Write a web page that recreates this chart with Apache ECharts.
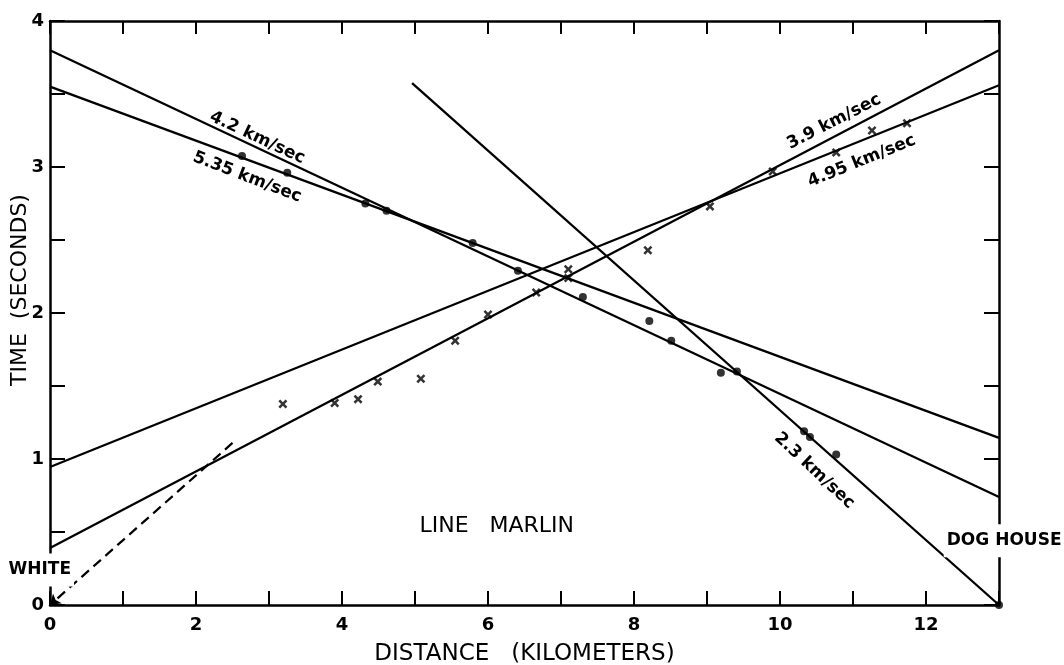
<!DOCTYPE html>
<html>
<head>
<meta charset="utf-8">
<title>Line Marlin travel times</title>
<script src="https://cdn.jsdelivr.net/npm/echarts@6/dist/echarts.min.js"></script>
<style>
  html, body { margin: 0; padding: 0; background: #fff; }
  #chart { width: 1064px; height: 665px; }
</style>
</head>
<body>
<div id="chart"></div>
<script>
// Axis labels
const xTickLabels = [0, 2, 4, 6, 8, 10, 12];
const yTickLabels = [0, 1, 2, 3, 4];

// Fitted travel-time lines, [distance km, time s]
const fit42 = [[0, 3.80], [13, 0.74]];
const fit535 = [[0, 3.55], [13, 1.145]];
const fit39 = [[0, 0.39], [13, 3.80]];
const fit495 = [[0, 0.945], [13, 3.56]];
const fit23 = [[4.96, 3.575], [13, 0]];
const direct23 = [[2.5, 1.11], [0, 0]];

// Arrivals from the Dog House shot (dots)
const dotPicks = [
  [2.63, 3.075], [3.25, 2.96], [4.32, 2.75], [4.61, 2.70], [5.79, 2.48],
  [6.41, 2.29], [7.30, 2.11], [8.21, 1.945], [8.51, 1.81], [9.19, 1.59],
  [9.41, 1.60], [10.33, 1.19], [10.41, 1.15], [10.77, 1.03], [13, 0]
];

// Arrivals from the White shot (crosses)
const crossPicks = [
  [3.19, 1.377], [3.90, 1.384], [4.22, 1.41], [4.49, 1.53], [5.08, 1.55],
  [5.55, 1.81], [6.00, 1.99], [6.66, 2.14], [7.10, 2.24], [7.10, 2.30],
  [8.19, 2.43], [9.04, 2.73], [9.90, 2.97], [10.77, 3.10], [11.26, 3.25],
  [11.74, 3.30]
];

// Text annotations: [text, distance, time, rotation deg, kind]
const notes = [
  ['4.2 km/sec', 2.84, 3.20, -25, 'velocity'],
  ['5.35 km/sec', 2.70, 2.93, -21, 'velocity'],
  ['3.9 km/sec', 10.74, 3.31, 27, 'velocity'],
  ['4.95 km/sec', 11.12, 3.04, 22, 'velocity'],
  ['2.3 km/sec', 10.47, 0.92, -43, 'velocity'],
  ['LINE   MARLIN', 6.12, 0.54, 0, 'title'],
  ['WHITE', -0.14, 0.24, 0, 'station'],
  ['DOG HOUSE', 13.07, 0.44, 0, 'station']
];

const FONT = '"DejaVu Sans", "Liberation Sans", sans-serif';
const INK = '#000';
const crossPath = 'path://M0,2 L2,0 L5,3 L8,0 L10,2 L7,5 L10,8 L8,10 L5,7 L2,10 L0,8 L3,5 Z';

const chart = echarts.init(document.getElementById('chart'), null, { renderer: 'canvas' });

function fitSeries(data) {
  return {
    type: 'line', data: data, symbol: 'none', silent: true,
    lineStyle: { color: INK, width: 2.3 }, z: 3
  };
}

const axisLineStyle = { color: INK, width: 2.5 };
const tickStyle = { color: INK, width: 2 };

const option = {
  animation: false,
  backgroundColor: '#fff',
  grid: { left: 50, right: 65, top: 21, bottom: 60, containLabel: false, outerBoundsMode: 'none' },
  xAxis: [
    {
      type: 'value', min: 0, max: 13, interval: 1, position: 'bottom',
      axisLine: { show: true, onZero: false, lineStyle: axisLineStyle },
      axisTick: { show: true, inside: true, length: 14, lineStyle: tickStyle },
      splitLine: { show: false },
      axisLabel: {
        margin: 11, color: INK, fontFamily: FONT, fontSize: 18, fontWeight: 'bold',
        formatter: v => (xTickLabels.indexOf(v) >= 0 ? String(v) : '')
      },
      name: 'DISTANCE   (KILOMETERS)', nameLocation: 'middle', nameGap: 38,
      nameMoveOverlap: false,
      nameTextStyle: { color: INK, fontFamily: FONT, fontSize: 23, fontWeight: 'normal' }
    },
    {
      type: 'value', min: 0, max: 13, interval: 1, position: 'top',
      axisLine: { show: true, onZero: false, lineStyle: axisLineStyle },
      axisTick: { show: true, inside: true, length: 13, lineStyle: tickStyle },
      splitLine: { show: false }, axisLabel: { show: false }
    }
  ],
  yAxis: [
    {
      type: 'value', min: 0, max: 4, interval: 0.5, position: 'left',
      axisLine: { show: true, onZero: false, lineStyle: axisLineStyle },
      axisTick: { show: true, inside: true, length: 15, lineStyle: tickStyle },
      splitLine: { show: false },
      axisLabel: {
        margin: 6, color: INK, fontFamily: FONT, fontSize: 18, fontWeight: 'bold',
        formatter: v => (yTickLabels.indexOf(v) >= 0 ? String(v) : '')
      },
      name: 'TIME  (SECONDS)', nameLocation: 'middle', nameGap: 19, nameRotate: 90,
      nameMoveOverlap: false,
      nameTextStyle: {
        color: INK, fontFamily: FONT, fontSize: 22, fontWeight: 'normal',
        padding: [0, 0, 0, 46]
      }
    },
    {
      type: 'value', min: 0, max: 4, interval: 0.5, position: 'right',
      axisLine: { show: true, onZero: false, lineStyle: axisLineStyle },
      axisTick: { show: true, inside: true, length: 15, lineStyle: tickStyle },
      splitLine: { show: false }, axisLabel: { show: false }
    }
  ],
  series: [
    fitSeries(fit42),
    fitSeries(fit535),
    fitSeries(fit39),
    fitSeries(fit495),
    fitSeries(fit23),
    {
      type: 'lines', coordinateSystem: 'cartesian2d', silent: true, z: 3,
      symbol: ['none', 'arrow'], symbolSize: 10,
      lineStyle: { color: INK, width: 2.2, type: [10, 6], opacity: 1 },
      data: [{ coords: direct23 }]
    },
    {
      type: 'scatter', data: dotPicks, symbol: 'circle', symbolSize: 8, silent: true,
      itemStyle: { color: INK }, z: 4
    },
    {
      type: 'scatter', data: crossPicks, symbol: crossPath, symbolSize: [9, 9], silent: true,
      itemStyle: { color: INK }, z: 4
    }
  ]
};

chart.setOption(option);

// Place the annotations once the axes are laid out
const styles = {
  velocity: { font: 'bold 17px ' + FONT, bg: null },
  title: { font: '22px ' + FONT, bg: null },
  station: { font: 'bold 17px ' + FONT, bg: '#fff' }
};
const graphics = notes.map(([text, x, y, rot, kind]) => {
  const p = chart.convertToPixel({ gridIndex: 0 }, [x, y]);
  const s = styles[kind];
  const style = { text: text, font: s.font, fill: INK, align: 'center', verticalAlign: 'middle' };
  if (s.bg) { style.backgroundColor = s.bg; style.padding = [8, 3]; }
  return { type: 'text', x: p[0], y: p[1], rotation: rot * Math.PI / 180, z: 100, style: style, silent: true };
});
chart.setOption({ graphic: graphics });
</script>
</body>
</html>
